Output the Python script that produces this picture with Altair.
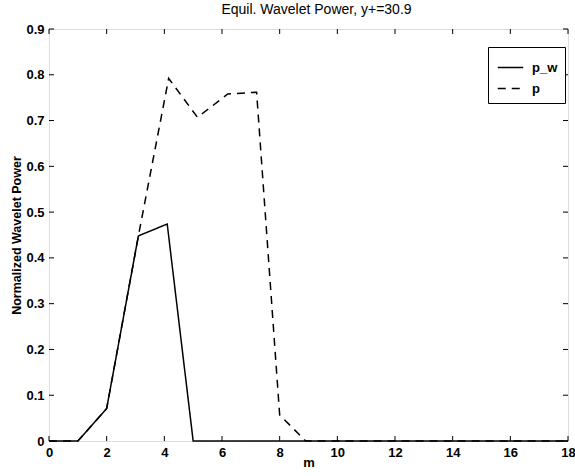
import altair as alt
import pandas as pd

# p_w (solid)
m_pw = [0, 1, 2, 3.1, 4.1, 5, 18]
v_pw = [0, 0, 0.071, 0.448, 0.474, 0, 0]
# p (dashed)
m_p = [0, 1, 2, 3.1, 4.15, 5.15, 6.2, 7.2, 8, 8.9, 18]
v_p = [0, 0, 0.071, 0.448, 0.792, 0.707, 0.758, 0.762, 0.057, 0, 0]

series_names = ["p_w", "p"]
x_ticks = [0, 2, 4, 6, 8, 10, 12, 14, 16, 18]
y_ticks = [0, 0.1, 0.2, 0.3, 0.4, 0.5, 0.6, 0.7, 0.8, 0.9]

df = pd.concat([
    pd.DataFrame({"m": m_pw, "v": v_pw, "series": "p_w"}),
    pd.DataFrame({"m": m_p, "v": v_p, "series": "p"}),
])

W, H = 519, 412
FONT = "Liberation Sans"
XT = "m"
YT = "Normalized Wavelet Power"

x_scale = alt.Scale(domain=[0, 18], nice=False, zero=False)
y_scale = alt.Scale(domain=[0, 0.9], nice=False)

x_axis = alt.Axis(values=x_ticks, title=XT, grid=False, domain=False,
                  ticks=False, labelPadding=5, titlePadding=-3,
                  labelFont=FONT, labelFontSize=13, labelFontWeight="bold",
                  titleFont=FONT, titleFontSize=13, titleFontWeight="bold",
                  labelColor="black", titleColor="black",
                  labelFlush=False, labelOverlap=False)
y_axis = alt.Axis(values=y_ticks, title=YT, grid=False,
                  domain=False, ticks=False, labelPadding=5, titlePadding=2,
                  format=".1~f",
                  labelFont=FONT, labelFontSize=13, labelFontWeight="bold",
                  titleFont=FONT, titleFontSize=12.5, titleFontWeight="bold",
                  labelColor="black", titleColor="black",
                  labelFlush=False, labelOverlap=False)

lines = alt.Chart(df).mark_line(color="black", strokeWidth=1.5).encode(
    x=alt.X("m:Q", scale=x_scale, axis=x_axis),
    y=alt.Y("v:Q", scale=y_scale, axis=y_axis),
    strokeDash=alt.StrokeDash(
        "series:N",
        scale=alt.Scale(domain=series_names, range=[[1, 0], [8, 6]]),
        legend=alt.Legend(title=None, orient="none", legendX=439, legendY=18,
                          strokeColor="black", fillColor="white", padding=7,
                          symbolType="stroke", symbolSize=650, symbolStrokeWidth=1.5,
                          symbolStrokeColor="black", rowPadding=-5, labelOffset=8,
                          symbolOffset=2,
                          labelFont=FONT, labelFontSize=13, labelFontWeight="bold",
                          labelColor="black"),
    ),
)

tx = pd.DataFrame({"t": x_ticks})
ty = pd.DataFrame({"t": y_ticks})
TL = 5

bottom_ticks = alt.Chart(tx).mark_rule(color="black", strokeWidth=1).encode(
    x=alt.X("t:Q", scale=x_scale, axis=x_axis), y=alt.value(H), y2=alt.value(H - TL))
top_ticks = alt.Chart(tx).mark_rule(color="black", strokeWidth=1).encode(
    x=alt.X("t:Q", scale=x_scale, axis=x_axis), y=alt.value(0), y2=alt.value(TL))
left_ticks = alt.Chart(ty).mark_rule(color="black", strokeWidth=1).encode(
    y=alt.Y("t:Q", scale=y_scale, axis=y_axis), x=alt.value(0), x2=alt.value(TL))
right_ticks = alt.Chart(ty).mark_rule(color="black", strokeWidth=1).encode(
    y=alt.Y("t:Q", scale=y_scale, axis=y_axis), x=alt.value(W), x2=alt.value(W - TL))

chart = alt.layer(lines, bottom_ticks, top_ticks, left_ticks, right_ticks).properties(
    width=W, height=H,
    title=alt.TitleParams("Equil. Wavelet Power, y+=30.9", font=FONT, fontSize=14,
                          fontWeight="normal", color="black", anchor="middle",
                          offset=6, dx=8),
    autosize=alt.AutoSizeParams(type="none"),
    padding={"left": 49, "top": 29, "right": 7, "bottom": 35},
).configure_view(stroke="black", strokeWidth=1.3).configure(background="white")

chart.save("out.html", embed_options={"renderer": "svg", "actions": False})
